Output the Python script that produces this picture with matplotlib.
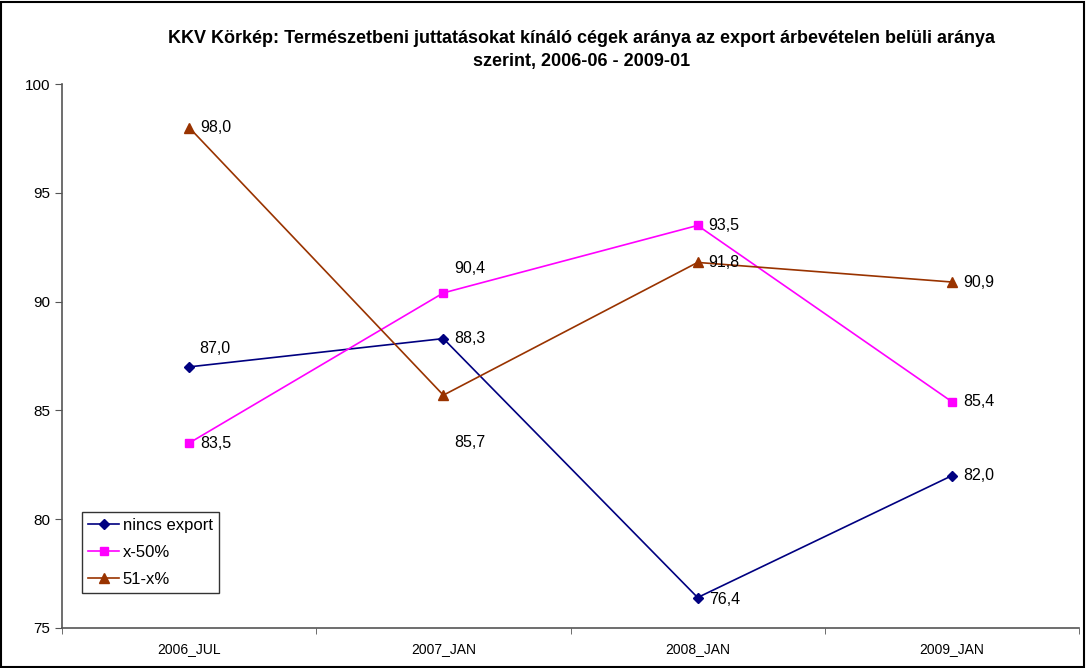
import matplotlib
matplotlib.use("Agg")
import matplotlib.pyplot as plt
from matplotlib.patches import Rectangle

categories = ["2006_JUL", "2007_JAN", "2008_JAN", "2009_JAN"]
nincs_export = [87.0, 88.3, 76.4, 82.0]
x_50 = [83.5, 90.4, 93.5, 85.4]
x_51 = [98.0, 85.7, 91.8, 90.9]
series_names = ["nincs export", "x-50%", "51-x%"]
title = ("KKV Körkép: Természetbeni juttatásokat kínáló cégek aránya az export árbevételen belüli aránya\n"
         "szerint, 2006-06 - 2009-01")

plt.rcParams['font.family'] = ['Liberation Sans', 'DejaVu Sans']

fig = plt.figure(figsize=(10.86, 6.68), dpi=100)
ax = fig.add_axes([62/1086, 40/668, (1079-62)/1086, (628-84)/668])

xs = list(range(len(categories)))
styles = [
    (nincs_export, "#000080", "D", 5.5),
    (x_50, "#FF00FF", "s", 6),
    (x_51, "#993300", "^", 6.5),
]
for (vals, col, mk, ms), name in zip(styles, series_names):
    ax.plot(xs, vals, color=col, marker=mk, markersize=ms, linewidth=1.2,
            markerfacecolor=col, markeredgecolor=col, label=name)

# label offsets in pixels (dx, dy)
offsets = [
    [(10, 18), (11, 0), (11, -2), (11, 0)],
    [(11, 0), (11, 24), (11, 0), (11, 0)],
    [(11, 0), (11, -47), (11, 0), (11, 0)],
]
for (vals, *_), offs in zip(styles, offsets):
    for x, v, (dx, dy) in zip(xs, vals, offs):
        ax.annotate(f"{v:.1f}".replace(".", ","), (x, v), xytext=(dx, dy),
                    textcoords="offset pixels", ha="left", va="center",
                    fontsize=11.5, color="black")

ax.set_xlim(-0.5, 3.5)
ax.set_ylim(75, 100)
ax.set_yticks([75, 80, 85, 90, 95, 100])
ax.set_xticks(xs)
ax.set_xticklabels(categories, fontsize=10)
ax.set_xticks([-0.5, 0.5, 1.5, 2.5, 3.5], minor=True)
ax.tick_params(axis="x", which="major", length=0, pad=10)
ax.tick_params(axis="x", which="minor", length=4, direction="out", color="#555555")
ax.tick_params(axis="y", labelsize=11, length=5, direction="out", color="#555555")
for s in ["top", "right"]:
    ax.spines[s].set_visible(False)
for s in ["left", "bottom"]:
    ax.spines[s].set_color("#555555")
    ax.spines[s].set_linewidth(1.2)

leg = ax.legend(loc="upper left", bbox_to_anchor=((82-62)/1017, (628-512)/544),
                fontsize=12, frameon=True, fancybox=False, edgecolor="black",
                borderpad=0.35, handlelength=1.9, handletextpad=0.2,
                labelspacing=0.72, borderaxespad=0)
leg.get_frame().set_linewidth(1.0)

fig.text(582/1086, 1 - 50/668, title, ha="center", va="center", fontsize=13,
         fontweight="bold", linespacing=1.4)

fig.patches.append(Rectangle((1/1086, 1/668), 1083/1086, 665/668, transform=fig.transFigure,
                             fill=False, edgecolor="black", linewidth=1.5))

fig.savefig("out.png", dpi=100)
